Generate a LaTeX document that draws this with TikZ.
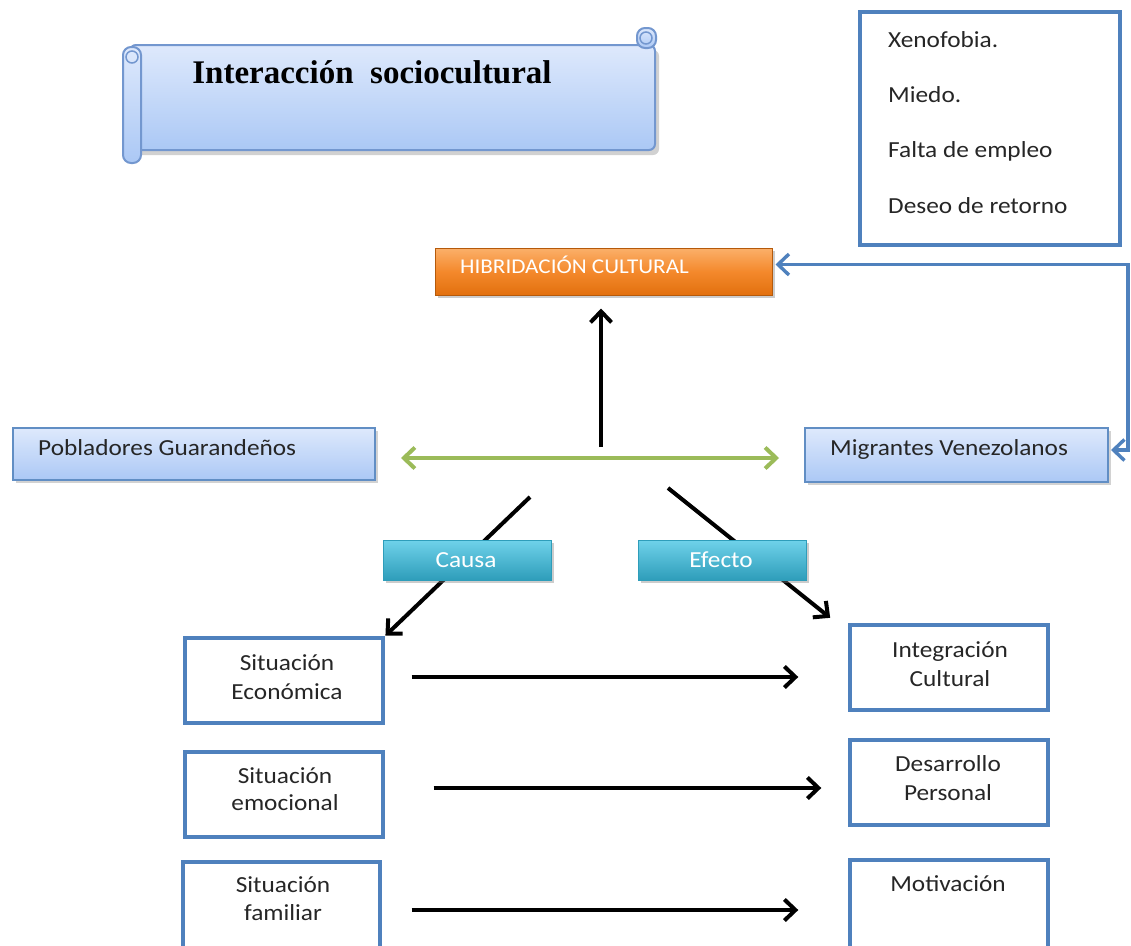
\documentclass[tikz,border=0pt]{standalone}
\usepackage{fontspec}
\setmainfont{Carlito}[FakeStretch=1.1]
\newfontfamily\titlefont{Liberation Serif}
\usetikzlibrary{arrows.meta,shadows,calc}
\definecolor{bord}{HTML}{4F81BD}
\definecolor{scrollb}{HTML}{7397CF}
\definecolor{lbtop}{HTML}{DEE9FC}
\definecolor{lbbot}{HTML}{ABC8F5}
\definecolor{ortop}{HTML}{FBB06A}
\definecolor{ormid}{HTML}{F4892C}
\definecolor{orbot}{HTML}{E2700E}
\definecolor{cytop}{HTML}{6FD2EA}
\definecolor{cybot}{HTML}{2E9DBA}
\definecolor{grn}{HTML}{9BBB59}
\definecolor{txt}{HTML}{262626}
\tikzset{
  wbox/.style={draw=bord, line width=3.4pt, fill=white, inner sep=0pt},
  bluebox/.style={draw=bord!90, line width=2pt, top color=lbtop, bottom color=lbbot, inner sep=0pt,
    drop shadow={shadow xshift=3pt, shadow yshift=-3pt, opacity=0.35}},
  orbox/.style={draw=orbot!80!black, line width=1pt, top color=ortop, bottom color=orbot, middle color=ormid, inner sep=0pt,
    drop shadow={shadow xshift=3pt, shadow yshift=-3pt, opacity=0.4}},
  cybox/.style={draw=cybot, line width=1pt, top color=cytop, bottom color=cybot, inner sep=0pt,
    drop shadow={shadow xshift=3pt, shadow yshift=-3pt, opacity=0.4}},
  lbl/.style={text=txt, inner sep=0pt, anchor=base},
  wlbl/.style={text=white, inner sep=0pt, anchor=base},
  barb/.tip={Straight Barb[length=11pt,width=21pt]},
  blk/.style={draw=black, line width=4pt, -barb},
}
\begin{document}
\begin{tikzpicture}[x=1pt,y=-1pt, font=\fontsize{23}{29}\selectfont]
\useasboundingbox (0,0) rectangle (1131,945);
\fill[white] (0,0) rectangle (1131,945);

% scroll banner
\fill[black, opacity=0.18, rounded corners=6] (134,50) rectangle (659,155);
\shade[top color=lbtop, bottom color=lbbot, draw=scrollb, line width=2pt, rounded corners=6] (130,45) rectangle (655,150);
\shade[top color=lbtop, bottom color=lbbot, draw=scrollb, line width=2pt, rounded corners=8] (123,47) rectangle (141,163);
\draw[scrollb, line width=1.5pt] (132,57) circle (6);
\shade[top color=lbtop, bottom color=lbbot, draw=scrollb, line width=2pt, rounded corners=8] (637,28) rectangle (656,48);
\draw[scrollb, line width=1.5pt] (646,38) circle (6);
\node[lbl, text=black, font=\titlefont\bfseries\fontsize{33}{36}\selectfont] (title) at (372,83) {Interacción\ \ sociocultural};

% top right list
\node[wbox, minimum width=260pt, minimum height=233pt] (list) at (990,128.5) {};
\node[lbl, anchor=base west] (l1) at (888,47) {Xenofobia.};
\node[lbl, anchor=base west] (l2) at (888,102) {Miedo.};
\node[lbl, anchor=base west] (l3) at (888,157) {Falta de empleo};
\node[lbl, anchor=base west] (l4) at (888,213) {Deseo de retorno};

% orange
\node[orbox, minimum width=337pt, minimum height=47pt] (hib) at (603.5,271.5) {};
\node[wlbl, anchor=base west, font=\fontsize{21}{25}\selectfont] (hibt) at (460,273) {HIBRIDACIÓN CULTURAL};

% blue population boxes
\node[bluebox, minimum width=362pt, minimum height=52pt] (pob) at (194,454) {};
\node[lbl, anchor=base west] (pobt) at (38,455) {Pobladores Guarandeños};
\node[bluebox, minimum width=303pt, minimum height=54pt] (mig) at (956.5,455) {};
\node[lbl, anchor=base west] (migt) at (830,455) {Migrantes Venezolanos};

% connectors top
\coordinate (hub) at (601,458);
\coordinate (ex) at (1128,0);
\draw[draw=grn, line width=4pt, barb-barb, shorten <=25pt, shorten >=25pt] (pob.east |- hub) -- (mig.west |- hub);
\draw[blk, shorten <=11pt, shorten >=13pt] (hub) -- (hib.south -| hub);
\draw[draw=bord, line width=3.4pt, barb-barb]
  ($(hib.east)+(3,-7)$) -- ($(hib.east -| ex)+(0,-7)$) -- ($(mig.east -| ex)+(0,-5)$) -- ($(mig.east)+(2,-5)$);

% cause / effect lines
\coordinate (cs) at (530,497);
\coordinate (es) at (668,488);
\node[wbox, minimum width=198pt, minimum height=85pt] (se) at (284,680.5) {};
\node[wbox, minimum width=198pt, minimum height=85pt] (se2) at (284,794.5) {};
\node[wbox, minimum width=197pt, minimum height=92pt] (sf) at (281.5,908) {};
\node[wbox, minimum width=198pt, minimum height=85pt] (ic) at (949,667.5) {};
\node[wbox, minimum width=198pt, minimum height=85pt] (dp) at (949,782.5) {};
\node[wbox, minimum width=198pt, minimum height=92pt] (mo) at (949,906) {};

\draw[blk, shorten >=1pt] (cs) -- (se.north east);
\draw[blk, shorten >=4pt] (es) -- ($(ic.north west)+(-15,-3)$);

\node[cybox, minimum width=168pt, minimum height=40pt] (causa) at (467,560) {};
\node[wlbl] (causat) at (466,567) {Causa};
\node[cybox, minimum width=168pt, minimum height=40pt] (efecto) at (722,560) {};
\node[wlbl] (efectot) at (721,567) {Efecto};

% box texts
\node[lbl] (t1a) at (287,670) {Situación};
\node[lbl] (t1b) at (287,699) {Económica};
\node[lbl] (t2a) at (285,783) {Situación};
\node[lbl] (t2b) at (285,810) {emocional};
\node[lbl] (t3a) at (283,892) {Situación};
\node[lbl] (t3b) at (283,920) {familiar};
\node[lbl] (t4a) at (950,657) {Integración};
\node[lbl] (t4b) at (950,686) {Cultural};
\node[lbl] (t5a) at (948,771) {Desarrollo};
\node[lbl] (t5b) at (948,800) {Personal};
\node[lbl] (t6a) at (948,891) {Motivación};

% horizontal arrows
\draw[blk, shorten <=27pt, shorten >=50pt] ($(se.east)+(0,-3.5)$) -- ($(se.east -| ic.west)+(0,-3.5)$);
\draw[blk, shorten <=49pt, shorten >=27pt] ($(se2.east)+(0,-6.5)$) -- ($(se2.east -| dp.west)+(0,-6.5)$);
\draw[blk, shorten <=30pt, shorten >=50pt] ($(sf.east)+(0,2)$) -- ($(sf.east -| mo.west)+(0,2)$);
\end{tikzpicture}
\end{document}
